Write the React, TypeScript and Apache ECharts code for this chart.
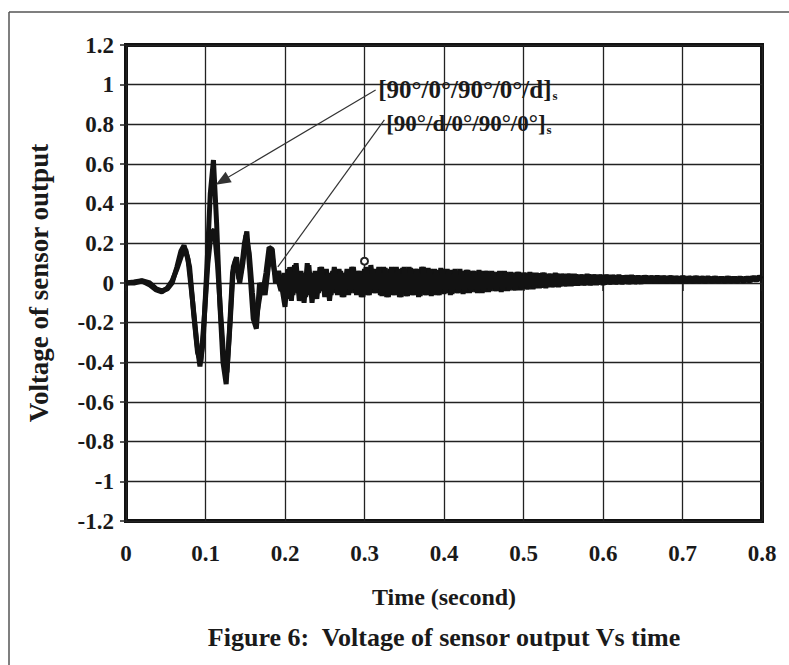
import React, { useEffect, useRef } from "react";
import * as echarts from "echarts";

// ---- data ----
const xTickLabels = ["0", "0.1", "0.2", "0.3", "0.4", "0.5", "0.6", "0.7", "0.8"];
const yTickLabels = ["-1.2", "-1", "-0.8", "-0.6", "-0.4", "-0.2", "0", "0.2", "0.4", "0.6", "0.8", "1", "1.2"];

// [90°/0°/90°/0°/d]s — transient part
const s1EarlyT = [0, 0.01, 0.02, 0.03, 0.038, 0.045, 0.052, 0.058, 0.064, 0.069, 0.073, 0.078, 0.084, 0.089, 0.093, 0.097, 0.102, 0.106, 0.110, 0.114, 0.118, 0.122, 0.126, 0.130, 0.134, 0.138, 0.142, 0.145, 0.149, 0.152, 0.156, 0.160, 0.164, 0.168, 0.172, 0.176, 0.180, 0.184, 0.188, 0.192, 0.196, 0.200];
const s1EarlyV = [0, 0.005, 0.012, 0.0, -0.03, -0.04, -0.03, 0.0, 0.08, 0.16, 0.19, 0.12, -0.1, -0.3, -0.42, -0.3, 0.1, 0.45, 0.62, 0.3, -0.1, -0.4, -0.51, -0.25, 0.05, 0.12, 0.02, 0.06, 0.2, 0.26, 0.05, -0.18, -0.23, 0.0, -0.05, 0.05, 0.18, 0.17, 0.0, 0.06, -0.02, -0.12];
// dense vibration, sampled every 0.004 s from 0.204 s
const s1DenseStart = 0.204;
const s1Dense = [
  0.07, -0.09, 0.09, -0.05, 0.06, -0.1, 0.1, -0.06, 0.05, -0.08, 0.08, -0.04, 0.07, -0.09, 0.06,
  -0.05, 0.07, -0.07, 0.05, -0.06, 0.08, -0.05, 0.06, -0.07, 0.07, -0.06, 0.09, -0.05, 0.07, -0.06,
  0.08, -0.07, 0.07, -0.06, 0.08, -0.07, 0.075, -0.065, 0.08, -0.06, 0.07, -0.07, 0.08, -0.06, 0.075,
  -0.065, 0.07, -0.06, 0.075, -0.055, 0.07, -0.06, 0.065, -0.05, 0.07, -0.055, 0.065, -0.05, 0.06, -0.045,
  0.065, -0.05, 0.06, -0.045, 0.06, -0.04, 0.055, -0.045, 0.06, -0.04, 0.055, -0.035, 0.055, -0.035, 0.05,
  -0.03, 0.055, -0.03, 0.05, -0.025, 0.05, -0.025, 0.045, -0.02, 0.05, -0.02, 0.045, -0.015, 0.045, -0.015,
  0.045, -0.012, 0.04, -0.01, 0.045, -0.01, 0.04, -0.008, 0.04, -0.008, 0.04, -0.005, 0.038, -0.005, 0.04,
  -0.004, 0.036, -0.003, 0.038, -0.002, 0.035, -0.002, 0.036, 0.0, 0.034, 0.0, 0.035, 0.0, 0.033, 0.001,
  0.034, 0.001, 0.032, 0.002, 0.033, 0.002, 0.031, 0.003, 0.032, 0.003, 0.03, 0.003, 0.031, 0.004, 0.03,
  0.004, 0.029, 0.004, 0.03, 0.005, 0.028, 0.005, 0.029, 0.006, 0.028, 0.008, 0.03, 0.012, 0.032, 0.02,
];

// [90°/d/0°/90°/0°]s — transient part
const s2EarlyT = [0, 0.01, 0.02, 0.03, 0.038, 0.045, 0.052, 0.058, 0.064, 0.070, 0.075, 0.080, 0.085, 0.090, 0.094, 0.098, 0.103, 0.107, 0.111, 0.115, 0.119, 0.123, 0.127, 0.131, 0.135, 0.139, 0.143, 0.147, 0.151, 0.155, 0.159, 0.163, 0.167, 0.171, 0.175, 0.179, 0.183, 0.187, 0.191, 0.195, 0.199];
const s2EarlyV = [0, 0.0, 0.01, -0.01, -0.035, -0.045, -0.025, 0.01, 0.07, 0.14, 0.17, 0.08, -0.15, -0.35, -0.4, -0.2, 0.1, 0.25, 0.27, 0.1, -0.15, -0.38, -0.45, -0.2, 0.08, 0.13, 0.0, 0.1, 0.24, 0.15, -0.05, -0.2, -0.1, 0.0, -0.06, 0.08, 0.16, 0.05, 0.02, -0.04, 0.05];
const s2DenseStart = 0.202;
const s2Dense = [
  -0.08, 0.08, -0.06, 0.1, -0.09, 0.05, -0.07, 0.09, -0.1, 0.06, -0.05, 0.08, -0.07, 0.05, -0.06,
  0.08, -0.06, 0.06, -0.07, 0.07, -0.05, 0.08, -0.06, 0.06, -0.07, 0.08, -0.06, 0.07, -0.05, 0.08,
  -0.065, 0.075, -0.07, 0.08, -0.06, 0.07, -0.07, 0.08, -0.065, 0.075, -0.06, 0.07, -0.065, 0.08, -0.06,
  0.07, -0.06, 0.065, -0.06, 0.07, -0.05, 0.065, -0.055, 0.07, -0.05, 0.06, -0.05, 0.065, -0.045, 0.06,
  -0.05, 0.06, -0.045, 0.06, -0.04, 0.055, -0.04, 0.06, -0.04, 0.055, -0.035, 0.05, -0.035, 0.055, -0.03,
  0.05, -0.03, 0.05, -0.025, 0.048, -0.022, 0.05, -0.02, 0.045, -0.018, 0.046, -0.016, 0.044, -0.014, 0.045,
  -0.012, 0.042, -0.01, 0.04, -0.009, 0.042, -0.008, 0.04, -0.006, 0.038, -0.006, 0.039, -0.004, 0.037, -0.003,
  0.036, -0.002, 0.037, -0.002, 0.035, -0.001, 0.034, 0.0, 0.035, 0.0, 0.033, 0.001, 0.034, 0.001, 0.032,
  0.002, 0.033, 0.002, 0.031, 0.002, 0.032, 0.003, 0.03, 0.003, 0.031, 0.004, 0.03, 0.004, 0.029, 0.004,
  0.03, 0.005, 0.028, 0.005, 0.029, 0.006, 0.028, 0.006, 0.028, 0.007, 0.029, 0.01, 0.03, 0.014, 0.03,
];
const denseStep = 0.004;

// annotations
const label1 = "[90°/0°/90°/0°/d]";
const label2 = "[90°/d/0°/90°/0°]";
const label1At = [0.3166, 0.978];
const label2At = [0.3266, 0.802];
const arrow1From = [0.314, 0.973];
const arrow1To = [0.121, 0.515];
const arrow2From = [0.325, 0.822];
const arrow2To = [0.191, 0.081];
const circleAt = [0.3, 0.11];

const FONT = '"Liberation Serif", "Times New Roman", serif';

function buildSeries(earlyT: number[], earlyV: number[], start: number, dense: number[]) {
  const pts: number[][] = earlyT.map((t, i) => [t, earlyV[i]]);
  dense.forEach((v, i) => pts.push([+(start + i * denseStep).toFixed(4), v]));
  return pts;
}

function richFor(size: number) {
  return {
    m: { fontFamily: FONT, fontWeight: "bold", fontSize: size, color: "#1a1a1a", lineHeight: 26 },
    s: { fontFamily: FONT, fontWeight: "bold", fontSize: 13, color: "#1a1a1a", lineHeight: 26, padding: [12, 0, 0, 1] },
  };
}

export default function App() {
  const ref = useRef<HTMLDivElement>(null);
  useEffect(() => {
    if (!ref.current) return;
    const chart = echarts.init(ref.current, null, { renderer: "svg" });
    const s1 = buildSeries(s1EarlyT, s1EarlyV, s1DenseStart, s1Dense);
    const s2 = buildSeries(s2EarlyT, s2EarlyV, s2DenseStart, s2Dense);
    chart.setOption({
      animation: false,
      backgroundColor: "#fff",
      grid: {
        left: 126,
        top: 45,
        width: 636,
        height: 476,
        show: true,
        borderColor: "#111",
        borderWidth: 4,
        backgroundColor: "transparent",
      },
      xAxis: {
        type: "value",
        min: 0,
        max: 0.8,
        interval: 0.1,
        name: "Time (second)",
        nameLocation: "middle",
        nameGap: 64,
        nameTextStyle: { fontFamily: FONT, fontWeight: "bold", fontSize: 24, color: "#1a1a1a" },
        axisLine: { show: false },
        axisTick: { show: true, length: 8, lineStyle: { color: "#222", width: 1.5 } },
        axisLabel: {
          margin: 21,
          fontFamily: FONT,
          fontWeight: "bold",
          fontSize: 23,
          color: "#1a1a1a",
          formatter: (v: number) => xTickLabels[Math.round(v / 0.1)],
        },
        splitLine: { show: true, lineStyle: { color: "#222", width: 1.3 } },
      },
      yAxis: {
        type: "value",
        min: -1.2,
        max: 1.2,
        interval: 0.2,
        name: "Voltage of sensor output",
        nameLocation: "middle",
        nameGap: 74,
        nameTextStyle: { fontFamily: FONT, fontWeight: "bold", fontSize: 27, color: "#1a1a1a" },
        axisLine: { show: false },
        axisTick: { show: true, length: 6, lineStyle: { color: "#222", width: 1.5 } },
        axisLabel: {
          margin: 12,
          fontFamily: FONT,
          fontWeight: "bold",
          fontSize: 23,
          color: "#1a1a1a",
          formatter: (v: number) => yTickLabels[Math.round((v + 1.2) / 0.2)],
        },
        splitLine: { show: true, lineStyle: { color: "#222", width: 1.3 } },
      },
      series: [
        {
          name: label1 + "s",
          type: "line",
          data: s1,
          showSymbol: false,
          lineStyle: { color: "#121212", width: 5 },
          z: 3,
          markLine: {
            silent: true,
            animation: false,
            symbol: ["none", "none"],
            label: { show: false },
            lineStyle: { color: "#333", width: 1.2, type: "solid" },
            data: [
              [
                { coord: arrow1From, symbol: "none" },
                { coord: arrow1To, symbol: "triangle", symbolSize: [12, 15] },
              ],
              [
                { coord: arrow2From, symbol: "none" },
                { coord: arrow2To, symbol: "none" },
              ],
            ],
          },
          markPoint: {
            silent: true,
            animation: false,
            data: [
              {
                coord: circleAt,
                symbol: "emptyCircle",
                symbolSize: 7,
                itemStyle: { color: "#222", borderColor: "#222", borderWidth: 1.5 },
                label: { show: false },
              },
              {
                coord: label1At,
                symbol: "circle",
                symbolSize: 1,
                itemStyle: { color: "rgba(0,0,0,0)" },
                label: {
                  show: true,
                  position: "right",
                  distance: 0,
                  formatter: "{m|" + label1 + "}{s|s}",
                  rich: richFor(25),
                },
              },
              {
                coord: label2At,
                symbol: "circle",
                symbolSize: 1,
                itemStyle: { color: "rgba(0,0,0,0)" },
                label: {
                  show: true,
                  position: "right",
                  distance: 0,
                  formatter: "{m|" + label2 + "}{s|s}",
                  rich: richFor(23),
                },
              },
            ],
          },
        },
        {
          name: label2 + "s",
          type: "line",
          data: s2,
          showSymbol: false,
          lineStyle: { color: "#121212", width: 5 },
          z: 3,
        },
      ],
      graphic: [
        { type: "line", shape: { x1: 9, y1: 12, x2: 789, y2: 12 }, style: { stroke: "#555", lineWidth: 1.5 } },
        { type: "line", shape: { x1: 9, y1: 12, x2: 9, y2: 665 }, style: { stroke: "#555", lineWidth: 1.5 } },
        {
          type: "text",
          x: 444,
          y: 637,
          style: {
            text: "Figure 6:  Voltage of sensor output Vs time",
            fontFamily: FONT,
            fontWeight: "bold",
            fontSize: 26,
            fill: "#1a1a1a",
            textAlign: "center",
            textVerticalAlign: "middle",
          },
        },
      ],
    });
    return () => chart.dispose();
  }, []);
  return (
    <div
      ref={ref}
      style={{ position: "fixed", left: 0, top: 0, width: 789, height: 665, background: "#fff" }}
    />
  );
}
